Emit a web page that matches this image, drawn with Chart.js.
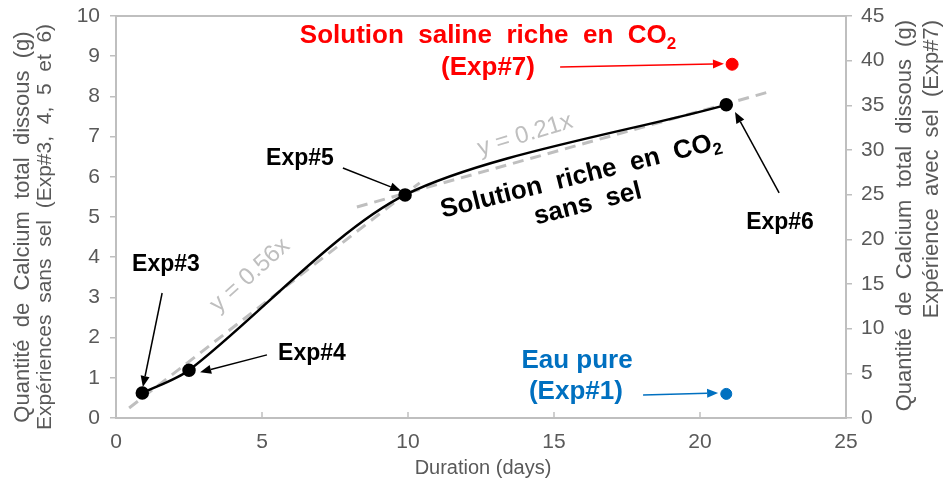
<!DOCTYPE html>
<html>
<head>
<meta charset="utf-8">
<script src="https://cdn.jsdelivr.net/npm/chart.js@4.4.1/dist/chart.umd.min.js"></script>
<style>
    html, body { margin: 0; padding: 0; background: #ffffff; }
</style>
</head>
<body>
<canvas id="calcium-chart" width="943" height="486"></canvas>
<script>
// Experiences sans sel (left axis)
let exp_names = ["Exp#3", "Exp#4", "Exp#5", "Exp#6"];
let exp_days = [0.9, 2.5, 9.9, 20.9];
let exp_calcium = [0.62, 1.19, 5.55, 7.79];

// Exp#7, solution saline (right axis)
let saline_days = [21.1];
let saline_calcium = [39.6];

// Exp#1, eau pure
let water_days = [20.9];
let water_calcium = [0.6];

// dashed trend lines, y = 0.56x and y = 0.21x
let trend1_days = [0.45, 10.4];
let trend1_calcium = [0.25, 5.85];
let trend2_days = [8.25, 22.35];
let trend2_calcium = [5.25, 8.11];

let x_ticks = [0, 5, 10, 15, 20, 25];
let y_ticks = [0, 1, 2, 3, 4, 5, 6, 7, 8, 9, 10];
let y2_ticks = [0, 5, 10, 15, 20, 25, 30, 35, 40, 45];

let left_title = ["Quantité  de  Calcium  total  dissous  (g)", "Expériences  sans  sel  (Exp#3,  4,  5  et  6)"];
let right_title = ["Quantité  de  Calcium  total  dissous  (g)", "Expérience  avec  sel  (Exp#7)"];
let x_title = "Duration (days)";

const FONT = "'Liberation Sans', Arial, sans-serif";
const GREY = "#595959";
const AXIS_GREY = "#BFBFBF";

// text notes placed in left-axis data units
let notes = [
    { text: "Solution  saline  riche  en  CO₂", x: 12.74, y: 9.50, color: "#FF0000", size: 26, bold: true, angle: 0 },
    { text: "(Exp#7)", x: 12.74, y: 8.72, color: "#FF0000", size: 26, bold: true, angle: 0 },
    { text: "Eau pure", x: 15.79, y: 1.42, color: "#0070C0", size: 26, bold: true, angle: 0 },
    { text: "(Exp#1)", x: 15.75, y: 0.65, color: "#0070C0", size: 26, bold: true, angle: 0 },
    { text: "Exp#3", x: 1.71, y: 3.81, color: "#000000", size: 23, bold: true, angle: 0 },
    { text: "Exp#4", x: 6.71, y: 1.59, color: "#000000", size: 23, bold: true, angle: 0 },
    { text: "Exp#5", x: 6.30, y: 6.44, color: "#000000", size: 23, bold: true, angle: 0 },
    { text: "Exp#6", x: 22.74, y: 4.85, color: "#000000", size: 23, bold: true, angle: 0 },
    { text: "y = 0.56x", x: 4.59, y: 3.55, color: AXIS_GREY, size: 24, bold: false, angle: -42 },
    { text: "y = 0.21x", x: 14.01, y: 7.04, color: AXIS_GREY, size: 24, bold: false, angle: -17 },
    { text: "Solution  riche  en  CO₂", x: 15.92, y: 6.02, color: "#000000", size: 26, bold: true, angle: -14 },
    { text: "sans  sel", x: 16.16, y: 5.32, color: "#000000", size: 26, bold: true, angle: -14 },
];

// arrows [from, to] in left-axis data units
let arrows = [
    { from: [15.21, 8.73], to: [20.82, 8.81], color: "#FF0000" },
    { from: [18.05, 0.57], to: [20.62, 0.62], color: "#0070C0" },
    { from: [1.58, 3.11], to: [0.92, 0.77], color: "#000000" },
    { from: [5.17, 1.57], to: [2.88, 1.14], color: "#000000" },
    { from: [7.77, 6.22], to: [9.76, 5.65], color: "#000000" },
    { from: [22.71, 5.60], to: [21.20, 7.61], color: "#000000" },
];

/**
 * Zip two arrays into {x, y} points.
 * @param {Array<Number>} xs - x values.
 * @param {Array<Number>} ys - y values.
 * @returns {Array<Object>} points.
 */
function to_points(xs, ys) {
    return xs.map((x, i) => ({ x: x, y: ys[i] }));
}

/**
 * Draw a string centered at (x, y); '₂' is drawn as a lowered small 2.
 */
function draw_rich_text(ctx, note, x, y) {
    let weight = note.bold ? "bold " : "";
    let big = `${weight}${note.size}px ${FONT}`;
    let small = `${weight}${Math.round(note.size * 0.65)}px ${FONT}`;
    let parts = note.text.split("₂");

    let width = 0;
    parts.forEach((p, i) => {
        ctx.font = big;
        width += ctx.measureText(p).width;
        if (i < parts.length - 1) {
            ctx.font = small;
            width += ctx.measureText("2").width;
        }
    });

    ctx.save();
    ctx.translate(x, y);
    ctx.rotate(note.angle * Math.PI / 180);
    ctx.fillStyle = note.color;
    ctx.textBaseline = "middle";
    ctx.textAlign = "left";
    let cx = -width / 2;
    parts.forEach((p, i) => {
        ctx.font = big;
        ctx.fillText(p, cx, 0);
        cx += ctx.measureText(p).width;
        if (i < parts.length - 1) {
            ctx.font = small;
            ctx.fillText("2", cx, note.size * 0.3);
            cx += ctx.measureText("2").width;
        }
    });
    ctx.restore();
}

/**
 * Draw an arrow with a filled head.
 */
function draw_arrow(ctx, x0, y0, x1, y1, color) {
    let a = Math.atan2(y1 - y0, x1 - x0);
    let head = 11;
    let half = 4.5;
    ctx.save();
    ctx.strokeStyle = color;
    ctx.fillStyle = color;
    ctx.lineWidth = 1.5;
    ctx.beginPath();
    ctx.moveTo(x0, y0);
    ctx.lineTo(x1 - head * Math.cos(a), y1 - head * Math.sin(a));
    ctx.stroke();
    ctx.beginPath();
    ctx.moveTo(x1, y1);
    ctx.lineTo(x1 - head * Math.cos(a) + half * Math.sin(a), y1 - head * Math.sin(a) - half * Math.cos(a));
    ctx.lineTo(x1 - head * Math.cos(a) - half * Math.sin(a), y1 - head * Math.sin(a) + half * Math.cos(a));
    ctx.closePath();
    ctx.fill();
    ctx.restore();
}

// frame, inner x ticks, axis titles, notes and arrows
let decorations = {
    id: "decorations",
    afterDatasetsDraw(chart) {
        let ctx = chart.ctx;
        let area = chart.chartArea;
        let sx = chart.scales.x;
        let sy = chart.scales.y;

        ctx.save();
        ctx.strokeStyle = AXIS_GREY;
        ctx.lineWidth = 2;
        ctx.beginPath();
        ctx.moveTo(area.left, area.top);
        ctx.lineTo(area.right, area.top);
        ctx.stroke();
        ctx.lineWidth = 1.5;
        x_ticks.forEach((t) => {
            let px = sx.getPixelForValue(t);
            ctx.beginPath();
            ctx.moveTo(px, area.bottom);
            ctx.lineTo(px, area.bottom - 6);
            ctx.stroke();
        });

        // axis titles
        ctx.fillStyle = GREY;
        ctx.textBaseline = "middle";
        ctx.save();
        ctx.translate(23, 227);
        ctx.rotate(-Math.PI / 2);
        ctx.textAlign = "center";
        ctx.font = `22px ${FONT}`;
        ctx.fillText(left_title[0], 0, 0);
        ctx.font = `21px ${FONT}`;
        ctx.fillText(left_title[1], 0, 22);
        ctx.restore();

        ctx.save();
        ctx.translate(905, 20);
        ctx.rotate(-Math.PI / 2);
        ctx.textAlign = "right";
        ctx.font = `22px ${FONT}`;
        right_title.forEach((line, i) => ctx.fillText(line, 0, i * 27));
        ctx.restore();

        ctx.font = `20px 'Liberation Sans Narrow', 'Arial Narrow', ${FONT}`;
        ctx.textAlign = "center";
        ctx.fillText(x_title, (area.left + area.right) / 2 + 2, 468);
        ctx.restore();

        arrows.forEach((a) => {
            draw_arrow(ctx,
                sx.getPixelForValue(a.from[0]), sy.getPixelForValue(a.from[1]),
                sx.getPixelForValue(a.to[0]), sy.getPixelForValue(a.to[1]), a.color);
        });

        notes.forEach((n) => {
            draw_rich_text(ctx, n, sx.getPixelForValue(n.x), sy.getPixelForValue(n.y));
        });
    }
};

let tick_font = { family: FONT, size: 21 };

/**
 * Pin an axis box size and drop the label overhang padding.
 */
function fix_box(size_key, size) {
    return (scale) => {
        scale[size_key] = size;
        scale.paddingTop = 0;
        scale.paddingBottom = 0;
        scale.paddingLeft = 0;
        scale.paddingRight = 0;
    };
}

new Chart(document.getElementById("calcium-chart"), {
    type: "scatter",
    data: {
        datasets: [
            {
                label: "Solution riche en CO2 sans sel",
                data: to_points(exp_days, exp_calcium),
                showLine: true,
                borderColor: "#000000",
                borderWidth: 2.5,
                tension: 0.28,
                pointRadius: 5.5,
                pointBackgroundColor: "#000000",
                pointBorderColor: "#000000",
                yAxisID: "y"
            },
            {
                label: "Solution saline riche en CO2 (Exp#7)",
                data: to_points(saline_days, saline_calcium),
                pointRadius: 6,
                pointBackgroundColor: "#FF0000",
                pointBorderColor: "#FF0000",
                yAxisID: "y2"
            },
            {
                label: "Eau pure (Exp#1)",
                data: to_points(water_days, water_calcium),
                pointRadius: 5.5,
                pointBackgroundColor: "#0070C0",
                pointBorderColor: "#0070C0",
                yAxisID: "y"
            },
            {
                label: "y = 0.56x",
                data: to_points(trend1_days, trend1_calcium),
                showLine: true,
                borderColor: AXIS_GREY,
                borderWidth: 3,
                borderDash: [11, 7],
                pointRadius: 0,
                yAxisID: "y"
            },
            {
                label: "y = 0.21x",
                data: to_points(trend2_days, trend2_calcium),
                showLine: true,
                borderColor: AXIS_GREY,
                borderWidth: 3,
                borderDash: [11, 7],
                pointRadius: 0,
                yAxisID: "y"
            }
        ]
    },
    options: {
        responsive: false,
        animation: false,
        devicePixelRatio: 1,
        layout: { autoPadding: false, padding: { top: 16, left: 0, right: 0, bottom: 0 } },
        plugins: {
            legend: { display: false },
            tooltip: { enabled: false }
        },
        scales: {
            x: {
                type: "linear",
                min: 0,
                max: 25,
                afterFit: fix_box("height", 68),
                afterBuildTicks: (scale) => { scale.ticks = x_ticks.map((v) => ({ value: v })); },
                grid: { drawOnChartArea: false, drawTicks: false },
                border: { color: AXIS_GREY, width: 2 },
                ticks: { color: GREY, font: tick_font, padding: 12, maxRotation: 0 }
            },
            y: {
                position: "left",
                min: 0,
                max: 10,
                afterFit: fix_box("width", 116),
                afterBuildTicks: (scale) => { scale.ticks = y_ticks.map((v) => ({ value: v })); },
                grid: { drawOnChartArea: false, tickLength: 6, color: AXIS_GREY, lineWidth: 1.5 },
                border: { color: AXIS_GREY, width: 2 },
                ticks: { color: GREY, font: tick_font, padding: 10 }
            },
            y2: {
                position: "right",
                min: 0,
                max: 45,
                afterFit: fix_box("width", 97),
                afterBuildTicks: (scale) => { scale.ticks = y2_ticks.map((v) => ({ value: v })); },
                grid: { drawOnChartArea: false, tickLength: 6, color: AXIS_GREY, lineWidth: 1.5 },
                border: { color: AXIS_GREY, width: 2 },
                ticks: { color: GREY, font: tick_font, padding: 9 }
            }
        }
    },
    plugins: [decorations]
});
</script>
</body>
</html>
